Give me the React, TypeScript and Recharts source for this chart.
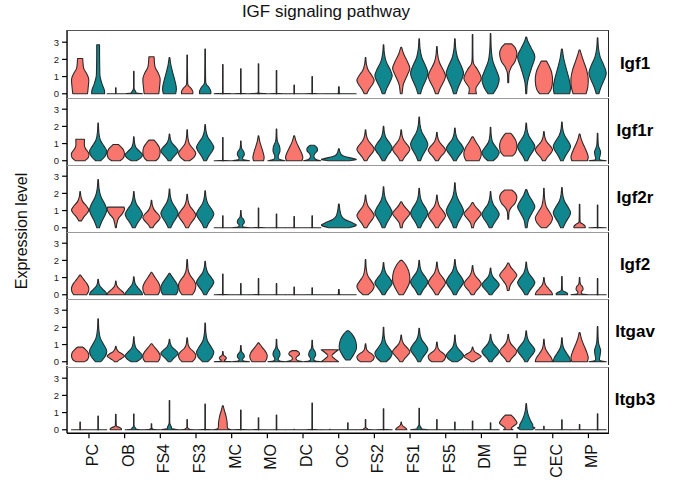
import React from "react";
import { BarChart, Bar, XAxis, YAxis } from "recharts";

// cell types on the x axis
const cells = ["PC", "OB", "FS4", "FS3", "MC", "MO", "DC", "OC", "FS2", "FS1", "FS5", "DM", "HD", "CEC", "MP"];
const genes = ["Igf1", "Igf1r", "Igf2r", "Igf2", "Itgav", "Itgb3"];
const yTicks = [0, 1, 2, 3];

// violin = [min, max, density shape, relative width]
type V = [number, number, string, number?] | null;

const igf1A: V[] = [
  [0, 2.05, "pear"], [0, 0.35, "spike"], [0, 2.15, "pear"], [0, 2.25, "lowBlob"], [0, 1.7, "spike"],
  [0, 1.75, "spike"], [0, 0.5, "spike"], null, [0, 2.1, "diamond"], [0, 2.7, "diamondHigh"],
  [0, 2.75, "diamond"], [0, 3.45, "lowNeck"], [0.65, 2.9, "highBulb"], [0, 1.9, "oval"], [0, 2.55, "dome"],
];
const igf1B: V[] = [
  [0, 2.85, "flask", 0.75], [0, 1.3, "spikeKnob"], [0, 2.1, "cone", 0.8], [0, 2.6, "lowBlob"], [0, 1.45, "spike"],
  [0, 1.35, "spike"], [0, 1.0, "spike"], [0, 0.4, "spike"], [0, 2.85, "diamond"], [0, 3.2, "diamond"],
  [0, 3.2, "diamond"], [0, 3.5, "diamondLow"], [0, 3.3, "diamondTop"], [0, 2.6, "cone"], [0, 3.25, "diamond"],
];

const igf1rA: V[] = [
  [0, 1.25, "mushroom"], [0, 0.95, "oval"], [0, 1.2, "oval"], [0, 1.8, "diamondLow"], [0, 1.35, "spike"],
  [0, 1.45, "cone", 0.65], [0, 1.45, "cone"], null, [0, 1.8, "diamond"], [0, 1.8, "diamond"],
  [0, 1.65, "diamond"], [0, 1.4, "dome"], [0.28, 1.6, "oval"], [0, 1.7, "diamond"], [0, 1.55, "cone"],
];
const igf1rB: V[] = [
  [0, 2.2, "diamondLow"], [0, 1.4, "diamondLow"], [0, 1.55, "diamond"], [0, 2.1, "diamond"], [0, 1.15, "baseKnob"],
  [0, 1.85, "baseKnob"], [0, 0.9, "knobTop"], [0, 0.7, "blobBase"], [0, 2.0, "diamond"], [0, 2.55, "diamond"],
  [0, 1.9, "diamond"], [0, 1.95, "diamondLow"], [0, 2.2, "diamond"], [0, 2.25, "diamond"], [0, 1.6, "slim"],
];

const igf2rA: V[] = [
  [0.4, 2.1, "diamond"], [0, 1.2, "funnel"], [0, 1.6, "diamond"], [0, 1.95, "diamond"], [0, 0.7, "spike"],
  [0, 1.15, "spike"], [0, 0.65, "spike"], null, [0, 1.9, "diamond"], [0, 1.51, "diamondHigh"],
  [0, 1.9, "diamond"], [0, 1.47, "diamondHigh"], [0.5, 2.2, "highBulb"], [0, 2.29, "diamondLow"], [0, 1.36, "lowBlob"],
];
const igf2rB: V[] = [
  [0, 2.8, "diamond"], [0, 2.1, "diamond"], [0, 2.25, "diamond"], [0, 2.15, "diamond"], [0, 1.0, "baseKnob"],
  [0, 0.8, "spike"], [0, 0.7, "spike"], [0, 1.38, "blobBase"], [0, 2.38, "diamond"], [0, 2.29, "diamond"],
  [0, 2.62, "diamond"], [0, 2.1, "diamond"], [0, 2.23, "diamondHigh"], [0, 2.34, "diamond"], [0, 1.32, "spike"],
];

const igf2A: V[] = [
  [0, 1.15, "dome"], [0, 0.8, "triangle"], [0, 1.3, "dome"], [0, 2.05, "domeTail"], [0, 1.2, "spike"],
  [0, 0.95, "spike"], [0, 0.45, "spike"], null, [0, 2.05, "diamondLow"], [0, 2.0, "egg"],
  [0, 1.9, "diamond"], [0, 1.7, "diamond"], [0.25, 1.85, "diamondHigh"], [0, 1.0, "triangle"], [0, 1.0, "baseKnob"],
];
const igf2B: V[] = [
  [0, 0.9, "triangle"], [0, 1.05, "triangle"], [0, 1.25, "dome"], [0, 1.95, "diamond"], [0, 0.65, "spike"],
  [0, 0.65, "spike"], [0, 0.4, "spike"], [0, 0.3, "spike"], [0, 1.87, "diamond"], [0, 2.0, "diamond"],
  [0, 2.05, "diamond"], [0, 1.55, "diamond"], [0, 1.9, "diamond"], [0, 1.06, "lowBlob"], [0, 0.95, "spike"],
];

const itgavA: V[] = [
  [0, 0.85, "oval"], [0, 0.9, "diamond"], [0, 1.05, "dome"], [0, 1.4, "domeTail"], [0, 0.6, "baseKnob"],
  [0, 1.1, "dome"], [0, 0.65, "knobTop"], [0, 0.7, "bowtie"], [0, 1.05, "domeTail"], [0, 1.55, "diamond"],
  [0, 1.15, "domeTail"], [0, 0.85, "diamond"], [0, 1.6, "diamond"], [0, 1.3, "triangle"], [0, 1.7, "cone"],
];
const itgavB: V[] = [
  [0, 2.5, "diamondLow"], [0, 1.45, "diamondLow"], [0, 1.3, "diamond"], [0, 2.25, "diamondLow"], [0, 0.95, "baseKnob"],
  [0, 1.3, "baseKnob"], [0, 1.25, "baseKnob"], [0.1, 1.8, "egg"], [0, 2.0, "diamondLow"], [0, 1.95, "diamond"],
  [0, 1.55, "diamondLow"], [0, 1.6, "diamond"], [0, 1.8, "diamond"], [0, 1.4, "triangle"], [0, 2.05, "slim"],
];

const itgb3A: V[] = [
  [0, 0.45, "spike"], [0, 0.9, "lowBlob"], [0, 0.35, "spikeKnob"], [0, 0.6, "spikeKnob"], [0, 1.4, "rocket"],
  [0, 0.7, "spike"], [0, 0.02, "spike"], [0, 0.02, "spike"], [0, 0.6, "spikeKnob"], [0, 0.45, "triangle", 0.65],
  [0, 0.6, "spike"], [0, 0.5, "spike"], [0, 0.85, "pinched"], [0, 0.2, "spike"], [0, 0.3, "spike"],
];
const itgb3B: V[] = [
  [0, 0.8, "spike"], [0, 0.92, "spikeKnob"], [0, 1.7, "spikeKnob"], [0, 1.5, "spike"], [0, 1.15, "spike"],
  [0, 0.85, "spike"], [0, 1.55, "spike"], [0, 0.4, "spike"], [0, 1.22, "spike"], [0, 1.25, "spikeKnob"],
  [0, 0.45, "spike"], [0, 0.4, "spike"], [0, 1.52, "tallTri"], [0, 0.58, "spike"], [0, 0.93, "spike"],
];

const groupA = [igf1A, igf1rA, igf2rA, igf2A, itgavA, itgb3A];
const groupB = [igf1B, igf1rB, igf2rB, igf2B, itgavB, itgb3B];

// density outlines: [position along violin 0..1, half width 0..1]
const shapes: Record<string, [number, number][]> = {
  spike: [[0, 1], [0.02, 0.08], [0.08, 0.03], [1, 0.02]],
  spikeKnob: [[0, 1], [0.03, 0.3], [0.1, 0.22], [0.2, 0.06], [0.35, 0.03], [1, 0.02]],
  lowBlob: [[0, 0.65], [0.06, 0.65], [0.14, 0.45], [0.22, 0.12], [0.35, 0.05], [1, 0.03]],
  pear: [[0, 0.85], [0.15, 0.92], [0.4, 1], [0.55, 0.8], [0.7, 0.45], [0.82, 0.35], [1, 0.3]],
  flask: [[0, 1], [0.08, 0.95], [0.2, 0.6], [0.35, 0.3], [0.5, 0.25], [0.8, 0.22], [1, 0.22]],
  cone: [[0, 0.9], [0.15, 1], [0.35, 0.8], [0.6, 0.45], [0.8, 0.2], [1, 0.05]],
  dome: [[0, 0.75], [0.15, 0.95], [0.35, 1], [0.55, 0.8], [0.75, 0.45], [0.9, 0.2], [1, 0.05]],
  domeTail: [[0, 0.6], [0.12, 0.9], [0.28, 1], [0.42, 0.75], [0.55, 0.35], [0.7, 0.12], [1, 0.03]],
  diamond: [[0, 0.15], [0.12, 0.4], [0.28, 0.85], [0.38, 1], [0.5, 0.75], [0.66, 0.3], [0.82, 0.1], [1, 0.03]],
  diamondLow: [[0, 0.3], [0.12, 0.8], [0.25, 1], [0.38, 0.7], [0.55, 0.25], [0.75, 0.08], [1, 0.02]],
  diamondHigh: [[0, 0.1], [0.2, 0.25], [0.4, 0.7], [0.55, 1], [0.7, 0.7], [0.85, 0.3], [1, 0.05]],
  diamondTop: [[0, 0.05], [0.2, 0.15], [0.45, 0.6], [0.65, 1], [0.8, 0.6], [0.92, 0.2], [1, 0.05]],
  oval: [[0, 0.5], [0.15, 0.85], [0.4, 1], [0.65, 0.9], [0.85, 0.6], [1, 0.3]],
  egg: [[0, 0.25], [0.15, 0.6], [0.35, 0.95], [0.5, 1], [0.7, 0.85], [0.88, 0.5], [1, 0.1]],
  mushroom: [[0, 0.55], [0.15, 0.95], [0.35, 1], [0.55, 0.65], [0.7, 0.5], [1, 0.5]],
  triangle: [[0, 1], [0.15, 0.9], [0.35, 0.55], [0.55, 0.22], [0.75, 0.08], [1, 0.02]],
  baseKnob: [[0, 1], [0.05, 0.3], [0.15, 0.2], [0.3, 0.4], [0.45, 0.35], [0.6, 0.12], [0.75, 0.05], [1, 0.02]],
  knobTop: [[0, 1], [0.08, 0.45], [0.25, 0.2], [0.45, 0.3], [0.65, 0.6], [0.85, 0.55], [1, 0.25]],
  funnel: [[0, 0.05], [0.2, 0.12], [0.45, 0.3], [0.65, 0.7], [0.82, 0.95], [0.92, 1], [1, 0.95]],
  bowtie: [[0, 1], [0.4, 0.3], [0.6, 0.3], [1, 1]],
  pinched: [[0, 0.55], [0.1, 0.35], [0.2, 0.5], [0.45, 1], [0.65, 0.85], [0.85, 0.6], [1, 0.35]],
  highBulb: [[0, 0.05], [0.25, 0.1], [0.4, 0.35], [0.55, 0.8], [0.75, 1], [0.9, 0.8], [1, 0.4]],
  tallTri: [[0, 0.7], [0.07, 1], [0.12, 0.75], [0.2, 0.75], [0.35, 0.5], [0.55, 0.25], [0.75, 0.1], [1, 0.03]],
  blobBase: [[0, 0.6], [0.1, 1], [0.2, 0.8], [0.35, 0.35], [0.5, 0.15], [0.75, 0.06], [1, 0.02]],
  lowNeck: [[0, 0.45], [0.1, 0.4], [0.25, 1], [0.4, 0.6], [0.5, 0.15], [0.6, 0.05], [1, 0.03]],
  slim: [[0, 1], [0.04, 0.25], [0.2, 0.3], [0.33, 0.35], [0.45, 0.2], [0.6, 0.08], [1, 0.03]],
  rocket: [[0, 1], [0.06, 0.55], [0.3, 0.5], [0.55, 0.38], [0.8, 0.18], [1, 0.04]],
};

const SALMON = "#F8766D";
const TEAL = "#10868E";
const FONT = "'Liberation Sans', Arial, Helvetica, sans-serif";

const PANEL_TOP = 29.5;
const PANEL_H = 67.2;
const PLOT_LEFT = 67;
const PLOT_RIGHT = 609;
const AXIS_H = 48;
const SPARE = 8; // room below each panel so the "0" label is not clipped

function violinPath(cx: number, top: number, bottom: number, half: number, pts: [number, number][]) {
  const h = bottom - top;
  const minHalf = 0.25;
  const right = pts.map(([t, w]) => [Math.max(w * half, minHalf), bottom - t * h]);
  const seg = (p: number[][], sign: number) => {
    let d = "";
    for (let i = 0; i < p.length - 1; i++) {
      const p0 = p[i - 1] ?? p[i];
      const p1 = p[i];
      const p2 = p[i + 1];
      const p3 = p[i + 2] ?? p2;
      const c1w = Math.max(p1[0] + (p2[0] - p0[0]) / 6, minHalf);
      const c1y = p1[1] + (p2[1] - p0[1]) / 6;
      const c2w = Math.max(p2[0] - (p3[0] - p1[0]) / 6, minHalf);
      const c2y = p2[1] - (p3[1] - p1[1]) / 6;
      d += ` C${cx + sign * c1w},${c1y} ${cx + sign * c2w},${c2y} ${cx + sign * p2[0]},${p2[1]}`;
    }
    return d;
  };
  const left = [...right].reverse();
  let d = `M${cx + right[0][0]},${right[0][1]}`;
  d += seg(right, 1);
  d += ` L${cx - left[0][0]},${left[0][1]}`;
  d += seg(left, -1);
  return d + " Z";
}

const violinShape = (key: "va" | "vb", fill: string) => (props: any) => {
  const row = props.payload;
  const v: V = row ? row[key] : null;
  if (!v || props.x == null) return <g />;
  const solo = key === "vb" && !row.va;
  const top = Math.min(props.y, props.y + props.height);
  const bottom = Math.max(props.y, props.y + props.height);
  const cx = solo ? props.x : props.x + props.width / 2;
  const half = (solo ? 0.96 : 0.48) * props.width * (v[3] ?? 1);
  return (
    <path
      d={violinPath(cx, top, bottom, half, shapes[v[2]])}
      fill={fill}
      stroke="#2a2a2a"
      strokeWidth={1.1}
      strokeLinejoin="round"
    />
  );
};

const YTick = (props: any) => (
  <text x={props.x} y={props.y} dy="0.35em" textAnchor="end" fontSize={9.5} fill="#222" fontFamily={FONT}>
    {props.payload.value}
  </text>
);

const XTick = (props: any) => (
  <g transform={`translate(${props.x},${props.y})`}>
    <text transform="rotate(-90)" textAnchor="end" dy={9} fontSize={16} fill="#111" fontFamily={FONT}>
      {props.payload.value}
    </text>
  </g>
);

function Panel({ index }: { index: number }) {
  const last = index === genes.length - 1;
  const rows = cells.map((cell, i) => {
    const a = groupA[index][i];
    const b = groupB[index][i];
    return { cell, a: a ? [a[0], a[1]] : null, b: b ? [b[0], b[1]] : null, va: a, vb: b };
  });
  const top = PANEL_TOP + index * PANEL_H;
  return (
    <div style={{ position: "absolute", left: 0, top }}>
      <BarChart
        width={675}
        height={PANEL_H + (last ? AXIS_H : SPARE)}
        data={rows}
        margin={{ top: 0, right: 675 - PLOT_RIGHT, bottom: last ? 0 : SPARE, left: 0 }}
        barCategoryGap={0}
        barGap={0}
      >
        <XAxis
          dataKey="cell"
          type="category"
          padding={{ left: 4.1, right: 2.7 }}
          height={last ? AXIS_H : 0}
          axisLine={{ stroke: "#000", strokeWidth: 1.4 }}
          tickLine={last ? { stroke: "#000", strokeWidth: 1.2 } : false}
          tickSize={5}
          tickMargin={5.8}
          tick={last ? <XTick /> : false}
          interval={0}
        />
        <YAxis
          type="number"
          domain={[-0.2, 3.71]}
          allowDataOverflow
          ticks={yTicks}
          interval={0}
          width={PLOT_LEFT}
          tickSize={5}
          tickMargin={3}
          axisLine={{ stroke: "#000", strokeWidth: 1.4 }}
          tickLine={{ stroke: "#000", strokeWidth: 1.2 }}
          tick={<YTick />}
        />
        <Bar dataKey="a" fill={SALMON} shape={violinShape("va", SALMON)} isAnimationActive={false} />
        <Bar dataKey="b" fill={TEAL} shape={violinShape("vb", TEAL)} isAnimationActive={false} />
      </BarChart>
      <div
        style={{
          position: "absolute",
          left: PLOT_LEFT,
          top: index === 0 ? 0 : 1,
          width: PLOT_RIGHT - PLOT_LEFT,
          height: PANEL_H - (index === 0 ? 0 : 1),
          borderTop: `1px solid ${index === 0 ? "#555" : "#999"}`,
          borderRight: "1px solid #222",
          boxSizing: "border-box",
          pointerEvents: "none",
        }}
      />
      <div
        style={{
          position: "absolute",
          left: 605,
          top: 0,
          width: 60,
          height: PANEL_H,
          lineHeight: `${PANEL_H}px`,
          textAlign: "center",
          fontFamily: FONT,
          fontWeight: "bold",
          fontSize: 17,
          color: "#000",
        }}
      >
        {genes[index]}
      </div>
    </div>
  );
}

export default function App() {
  return (
    <div style={{ position: "absolute", left: 0, top: 0, width: 675, height: 481, background: "#fff", fontFamily: FONT }}>
      <div
        style={{
          position: "absolute",
          left: 226,
          top: 2,
          width: 200,
          textAlign: "center",
          fontSize: 17,
          color: "#111",
        }}
      >
        IGF signaling pathway
      </div>
      <div
        style={{
          position: "absolute",
          left: 22,
          top: 231,
          transform: "translate(-50%, -50%) rotate(-90deg)",
          fontSize: 16,
          color: "#111",
          whiteSpace: "nowrap",
        }}
      >
        Expression level
      </div>
      {genes.map((g, i) => (
        <Panel key={g} index={i} />
      ))}
    </div>
  );
}
